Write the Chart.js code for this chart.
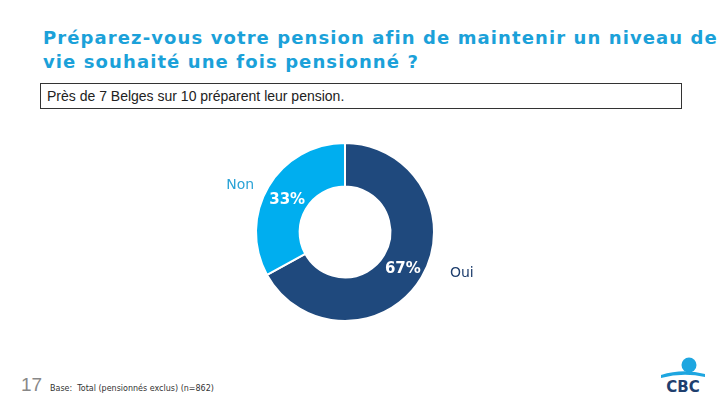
<!DOCTYPE html>
<html lang="fr">
<head>
  <meta charset="UTF-8">
  <title>Pension</title>
  <style>
    body {
      margin: 0;
      width: 720px;
      height: 405px;
      background: #fff;
      position: relative;
      overflow: hidden;
      font-family: "DejaVu Sans", Verdana, sans-serif;
    }
    h1 {
      position: absolute;
      left: 43px;
      top: 26px;
      margin: 0;
      width: 690px;
      font-size: 18px;
      line-height: 24px;
      font-weight: bold;
      color: #1ba1d9;
      letter-spacing: 1.1px;
      white-space: nowrap;
    }
    .note {
      position: absolute;
      left: 40px;
      top: 83px;
      width: 634px;
      height: 24px;
      border: 1px solid #333;
      font-family: "Liberation Sans", Arial, sans-serif;
      font-size: 14px;
      line-height: 24px;
      padding-left: 6px;
      color: #222;
    }
    .chart-box {
      position: absolute;
      left: 195px;
      top: 130px;
      width: 300px;
      height: 204px;
    }
    .page {
      position: absolute;
      left: 21px;
      top: 374px;
      font-family: "Liberation Sans", Arial, sans-serif;
      font-size: 19px;
      color: #888;
    }
    .base {
      position: absolute;
      left: 50px;
      top: 384px;
      font-size: 8px;
      color: #333;
    }
    .logo {
      position: absolute;
      left: 660px;
      top: 356px;
      width: 46px;
      height: 38px;
    }
  </style>
  <script src="https://cdn.jsdelivr.net/npm/chart.js"></script>
</head>
<body>
  <h1>Préparez-vous votre pension afin de maintenir un niveau de<br>vie souhaité une fois pensionné ?</h1>
  <div class="note">Près de 7 Belges sur 10 préparent leur pension.</div>

  <div class="chart-box">
    <canvas id="donut" width="300" height="204"></canvas>
  </div>

  <div class="page">17</div>
  <div class="base">Base:&nbsp; Total (pensionnés exclus) (n=862)</div>

  <svg class="logo" viewBox="0 0 46 38">
    <circle cx="29" cy="9" r="7.5" fill="#1ea6e0"/>
    <path d="M1 19 Q23 12 45 18 L45 21 Q23 16 1 22 Z" fill="#1ea6e0"/>
    <text x="23" y="36" text-anchor="middle" font-family="DejaVu Sans" font-weight="bold" font-size="15" fill="#1f3f6e">CBC</text>
  </svg>

  <script>
    const categories = ["Oui", "Non"];
    const values = [67, 33];
    const colors = ["#1f497d", "#00aeef"];
    const labelColors = ["#1f3f6e", "#2ba3d6"];

    // draws the % inside each slice and the category name next to it
    const sliceLabels = {
      id: "sliceLabels",
      afterDatasetsDraw(chart) {
        const ctx = chart.ctx;
        const meta = chart.getDatasetMeta(0);
        ctx.save();
        ctx.textAlign = "center";
        ctx.textBaseline = "middle";
        meta.data.forEach((arc, i) => {
          const p = arc.tooltipPosition();
          const lift = i === 0 ? 3 : 2;
          ctx.fillStyle = "#fff";
          ctx.font = "bold 15px 'DejaVu Sans'";
          ctx.fillText(values[i] + "%", p.x, p.y + lift);

          const off = i === 0 ? { x: 59, y: 7 } : { x: -47, y: -12 };
          ctx.fillStyle = labelColors[i];
          ctx.font = "14px 'DejaVu Sans'";
          ctx.fillText(categories[i], p.x + off.x, p.y + off.y);
        });
        ctx.restore();
      }
    };

    new Chart(document.getElementById("donut"), {
      type: "doughnut",
      data: {
        labels: categories,
        datasets: [{
          data: values,
          backgroundColor: colors,
          borderColor: "#fff",
          borderWidth: 2
        }]
      },
      options: {
        responsive: false,
        animation: false,
        cutout: "51%",
        layout: { padding: { top: 12, bottom: 12 } },
        plugins: {
          legend: { display: false },
          tooltip: { enabled: false }
        }
      },
      plugins: [sliceLabels]
    });
  </script>
</body>
</html>
